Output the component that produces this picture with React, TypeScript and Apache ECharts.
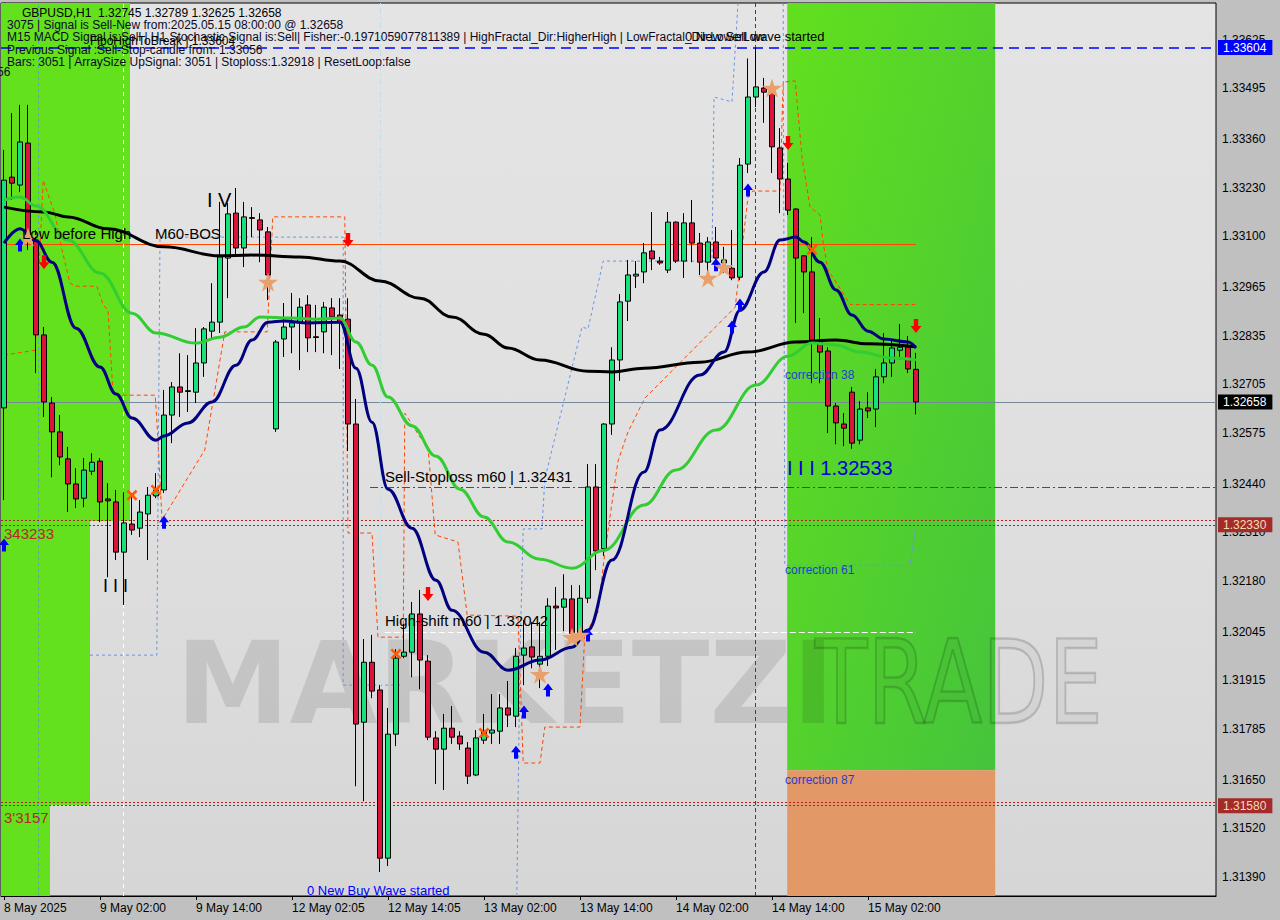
import React, { useEffect, useRef } from 'react';
import * as echarts from 'echarts';

// ---------- DATA ----------
// candles: [open, close, low, high], bar index = position in array (H1 bars)
const CANDLES: number[][] = [
  [1.32642, 1.33250, 1.32396, 1.33331], [1.33258, 1.33242, 1.33197, 1.33429], [1.33237, 1.33352, 1.33218, 1.33451],
  [1.33349, 1.33090, 1.33064, 1.33451], [1.33090, 1.32837, 1.32735, 1.33117], [1.32837, 1.32658, 1.32618, 1.32858],
  [1.32655, 1.32578, 1.32457, 1.32671], [1.32578, 1.32511, 1.32489, 1.32623], [1.32506, 1.32439, 1.32364, 1.32538],
  [1.32439, 1.32399, 1.32375, 1.32481], [1.32401, 1.32476, 1.32377, 1.32508], [1.32473, 1.32497, 1.32463, 1.32521],
  [1.32500, 1.32391, 1.32337, 1.32508], [1.32399, 1.32394, 1.32190, 1.32441], [1.32391, 1.32257, 1.32236, 1.32423],
  [1.32257, 1.32335, 1.32116, 1.32417], [1.32332, 1.32316, 1.32303, 1.32415], [1.32321, 1.32364, 1.32297, 1.32396],
  [1.32359, 1.32409, 1.32236, 1.32431], [1.32407, 1.32423, 1.32401, 1.32468], [1.32423, 1.32623, 1.32415, 1.32690],
  [1.32623, 1.32698, 1.32548, 1.32711], [1.32698, 1.32684, 1.32618, 1.32788], [1.32686, 1.32688, 1.32631, 1.32783],
  [1.32684, 1.32762, 1.32655, 1.32855], [1.32762, 1.32853, 1.32725, 1.32858], [1.32847, 1.32871, 1.32823, 1.32975],
  [1.32871, 1.33045, 1.32842, 1.33192], [1.33042, 1.33160, 1.32935, 1.33189], [1.33162, 1.33069, 1.33050, 1.33229],
  [1.33069, 1.33152, 1.33018, 1.33192], [1.33150, 1.33148, 1.33098, 1.33178], [1.33144, 1.33117, 1.33031, 1.33162],
  [1.33112, 1.32997, 1.32930, 1.33125], [1.32586, 1.32818, 1.32578, 1.32823], [1.32826, 1.32858, 1.32778, 1.32922],
  [1.32858, 1.32869, 1.32788, 1.32949], [1.32869, 1.32911, 1.32743, 1.32935], [1.32917, 1.32829, 1.32791, 1.32943],
  [1.32832, 1.32830, 1.32791, 1.32917], [1.32845, 1.32911, 1.32788, 1.32925], [1.32909, 1.32885, 1.32783, 1.32935],
  [1.32890, 1.32871, 1.32746, 1.32935], [1.32879, 1.32599, 1.32527, 1.32935], [1.32599, 1.31798, 1.31632, 1.32666],
  [1.31803, 1.31963, 1.31592, 1.32025], [1.31963, 1.31886, 1.31867, 1.32036], [1.31889, 1.31440, 1.31403, 1.31902],
  [1.31440, 1.31771, 1.31419, 1.31841], [1.31771, 1.31974, 1.31739, 1.31998], [1.31979, 1.31990, 1.31974, 1.32065],
  [1.31990, 1.32092, 1.31923, 1.32124], [1.32092, 1.31969, 1.31891, 1.32156], [1.31966, 1.31763, 1.31755, 1.31982],
  [1.31761, 1.31731, 1.31638, 1.31779], [1.31731, 1.31787, 1.31622, 1.31825], [1.31787, 1.31763, 1.31745, 1.31846],
  [1.31766, 1.31745, 1.31729, 1.31779], [1.31734, 1.31659, 1.31638, 1.31750], [1.31662, 1.31761, 1.31659, 1.31782],
  [1.31755, 1.31779, 1.31745, 1.31825], [1.31774, 1.31782, 1.31745, 1.31878], [1.31779, 1.31841, 1.31745, 1.31878],
  [1.31841, 1.31822, 1.31790, 1.31913], [1.31819, 1.31979, 1.31790, 1.32001], [1.31982, 1.32001, 1.31902, 1.32076],
  [1.32004, 1.31977, 1.31947, 1.32070], [1.31958, 1.31979, 1.31894, 1.32070], [1.31979, 1.32113, 1.31953, 1.32134],
  [1.32113, 1.32108, 1.31996, 1.32164], [1.32110, 1.32132, 1.32046, 1.32198], [1.32132, 1.32040, 1.32017, 1.32169],
  [1.32040, 1.32134, 1.32022, 1.32169], [1.32134, 1.32431, 1.32121, 1.32492], [1.32431, 1.32260, 1.32209, 1.32492],
  [1.32266, 1.32599, 1.32247, 1.32601], [1.32599, 1.32770, 1.32570, 1.32804], [1.32770, 1.32925, 1.32714, 1.32946],
  [1.32927, 1.32997, 1.32874, 1.33037], [1.32994, 1.32999, 1.32962, 1.33034], [1.33005, 1.33056, 1.32975, 1.33082],
  [1.33061, 1.33040, 1.33010, 1.33165], [1.33034, 1.33029, 1.33024, 1.33045], [1.33010, 1.33138, 1.33002, 1.33165],
  [1.33138, 1.33034, 1.33029, 1.33140], [1.33034, 1.33136, 1.32989, 1.33162], [1.33136, 1.33082, 1.33031, 1.33197],
  [1.33082, 1.33031, 1.32997, 1.33109], [1.33031, 1.33085, 1.33002, 1.33098], [1.33085, 1.33042, 1.33029, 1.33125],
  [1.33029, 1.33037, 1.33002, 1.33072], [1.33015, 1.32989, 1.32983, 1.33117], [1.32991, 1.33290, 1.32983, 1.33309],
  [1.33293, 1.33472, 1.33269, 1.33575], [1.33472, 1.33499, 1.33445, 1.33604], [1.33496, 1.33485, 1.33403, 1.33523],
  [1.33485, 1.33339, 1.33269, 1.33491], [1.33336, 1.33253, 1.33162, 1.33389], [1.33253, 1.33170, 1.33157, 1.33296],
  [1.33173, 1.33042, 1.32869, 1.33175], [1.33048, 1.33005, 1.32895, 1.33050], [1.33005, 1.32823, 1.32708, 1.33098],
  [1.32823, 1.32791, 1.32708, 1.32882], [1.32794, 1.32647, 1.32575, 1.32804], [1.32647, 1.32602, 1.32545, 1.32655],
  [1.32599, 1.32588, 1.32540, 1.32628], [1.32684, 1.32548, 1.32533, 1.32698], [1.32556, 1.32639, 1.32545, 1.32660],
  [1.32642, 1.32634, 1.32615, 1.32684], [1.32639, 1.32725, 1.32591, 1.32746], [1.32725, 1.32762, 1.32708, 1.32842],
  [1.32762, 1.32802, 1.32725, 1.32823], [1.32796, 1.32804, 1.32770, 1.32866], [1.32804, 1.32746, 1.32735, 1.32834],
  [1.32745, 1.32658, 1.32625, 1.32789],
];

const X_LABEL_INDEX = [0, 12, 24, 36, 48, 60, 72, 84, 96, 108];
const X_LABELS = ['8 May 2025', '9 May 02:00', '9 May 14:00', '12 May 02:05', '12 May 14:05', '13 May 02:00', '13 May 14:00', '14 May 02:00', '14 May 14:00', '15 May 02:00'];
const Y_TICKS = [1.33625, 1.33495, 1.33360, 1.33230, 1.33100, 1.32965, 1.32835, 1.32705, 1.32575, 1.32440, 1.32310, 1.32180, 1.32045, 1.31915, 1.31785, 1.31650, 1.31520, 1.31390];
const Y_MIN = 1.31339;
const Y_MAX = 1.33723;
const X_MIN = -0.375;
const X_MAX = 151.5;

// moving averages read at bar indices: [bar, price]
const MA_BLACK = [[0, 1.33178], [5, 1.33165], [8, 1.33152], [13, 1.33120], [20, 1.33072], [27, 1.33048], [31, 1.33050], [37, 1.33045], [42, 1.33034], [47, 1.32981], [52, 1.32935], [56, 1.32885], [60, 1.32839], [63, 1.32802], [67, 1.32770], [73, 1.32740], [76, 1.32738], [80, 1.32748], [87, 1.32764], [93, 1.32791], [99, 1.32818], [104, 1.32823], [108, 1.32813], [114, 1.32805]];
const MA_NAVY = [[0, 1.33082], [2, 1.33120], [4, 1.33088], [6, 1.33031], [9, 1.32855], [12, 1.32751], [14, 1.32679], [16, 1.32615], [19, 1.32556], [20, 1.32567], [23, 1.32602], [26, 1.32658], [29, 1.32756], [31, 1.32823], [33, 1.32871], [35, 1.32874], [38, 1.32869], [42, 1.32871], [44, 1.32748], [46, 1.32604], [48, 1.32425], [51, 1.32321], [54, 1.32182], [56, 1.32102], [60, 1.31990], [63, 1.31942], [67, 1.31969], [71, 1.32003], [73, 1.32049], [76, 1.32236], [80, 1.32471], [82, 1.32583], [87, 1.32730], [90, 1.32791], [92, 1.32903], [95, 1.33005], [97, 1.33090], [99, 1.33098], [100, 1.33085], [102, 1.33031], [104, 1.32957], [106, 1.32890], [108, 1.32847], [110, 1.32826], [113, 1.32818], [114, 1.32802]];
const MA_GREEN = [[0, 1.33197], [2, 1.33205], [4, 1.33181], [8, 1.33090], [12, 1.33002], [16, 1.32895], [19, 1.32842], [24, 1.32815], [27, 1.32831], [30, 1.32858], [32, 1.32885], [36, 1.32882], [39, 1.32879], [42, 1.32882], [44, 1.32818], [46, 1.32756], [48, 1.32671], [51, 1.32594], [54, 1.32513], [57, 1.32425], [60, 1.32351], [63, 1.32284], [67, 1.32238], [71, 1.32214], [75, 1.32262], [80, 1.32383], [84, 1.32476], [89, 1.32583], [94, 1.32703], [98, 1.32780], [101, 1.32815], [104, 1.32810], [107, 1.32791], [111, 1.32775], [114, 1.32770]];

// stepped fractal channels [bar, price]
const CHANNEL_ORANGE = [[0, 1.32783], [3.9, 1.32796], [4.9, 1.33250], [6.4, 1.33157], [7.25, 1.33064], [8.25, 1.32975], [8.9, 1.32967], [11.6, 1.32967], [12.4, 1.32917], [13, 1.32903], [13.6, 1.32690], [14.25, 1.32676], [18.9, 1.32676], [19.25, 1.32556], [19.75, 1.32343], [25.1, 1.32530], [27.6, 1.32845], [32.9, 1.32845], [33.6, 1.33152], [42.6, 1.33152], [43, 1.32308], [46, 1.32308], [46.75, 1.32030], [49.9, 1.32030], [50.1, 1.32628], [52, 1.32564], [53, 1.32538], [53.9, 1.32303], [56.75, 1.32284], [57.9, 1.32089], [64.25, 1.32086], [64.9, 1.31694], [67, 1.31694], [67.6, 1.31790], [72, 1.31790], [72.6, 1.32036], [74.25, 1.32097], [75.1, 1.32255], [76.75, 1.32500], [78, 1.32578], [80.1, 1.32668], [91.4, 1.32911], [93, 1.33205], [93.6, 1.33221], [97, 1.33221], [97.4, 1.33512], [98.9, 1.33515], [99.75, 1.33312], [100.75, 1.33178], [102, 1.33157], [102.4, 1.33082], [103, 1.33010], [104.25, 1.32970], [105.75, 1.32918], [113.9, 1.32918]];
const CHANNEL_BLUE_1 = [[10.75, 1.31982], [19.1, 1.31982], [19.5, 1.33098], [42.4, 1.33098], [42.4, 1.31902], [49.9, 1.31902]];
const CHANNEL_BLUE_2 = [[64.1, 1.31339], [64.5, 1.31987], [64.9, 1.32319], [67.25, 1.32319], [67.6, 1.32452], [72.25, 1.32858], [73, 1.32853], [74.9, 1.33034], [88.5, 1.33034], [88.75, 1.33472], [91, 1.33459], [91.75, 1.33723]];
const CHANNEL_BLUE_3 = [[97.4, 1.33723], [97.6, 1.32222], [113.25, 1.32222], [113.9, 1.32316]];

// signal markers [bar, price]
const SELL_ARROWS = [[5, 1.33031], [43, 1.33090], [53, 1.32145], [98, 1.33349], [114, 1.32861]];
const BUY_ARROWS = [[0, 1.32276], [2, 1.33077], [20, 1.32337], [64, 1.31723], [65, 1.31830], [68, 1.31889], [73, 1.32036], [89, 1.33024], [91, 1.32858], [92, 1.32917], [93, 1.33224]];
const CROSSES = [[16, 1.32409], [19, 1.32423], [49, 1.31985], [60, 1.31774], [101, 1.33064]];
const STARS = [[3, 1.33098], [33, 1.32978], [67, 1.31931], [71, 1.32030], [72, 1.32036], [88, 1.32989], [90, 1.33018], [96, 1.33496]];

// levels
const HIGH_TO_BREAK = 1.33604;
const BID = 1.32658;
const LEVEL_ORANGE = 1.33080;
const SELL_STOPLOSS = 1.32431;
const HIGH_SHIFT = 1.32042;
const SUPPORT_UPPER = [1.32341, 1.32330];
const SUPPORT_LOWER = [1.31590, 1.31580];

// zones [x0, x1, priceLow, priceHigh]
const ZONE_GREEN_LEFT = [[X_MIN, 15.75, 1.32340, Y_MAX], [X_MIN, 10.75, 1.31582, 1.32340], [X_MIN, 5.75, Y_MIN, 1.31582]];
const ZONE_GREEN_RIGHT = [97.9, 123.9, 1.31675, Y_MAX];
const ZONE_ORANGE_RIGHT = [97.9, 123.9, Y_MIN, 1.31675];

// ---------- STYLE ----------
const FONT = '"Liberation Sans", Arial, sans-serif';
const DOWN_ARROW = 'path://M3,0 L7,0 L7,6 L10,6 L5,12 L0,6 L3,6 Z';
const UP_ARROW = 'path://M5,0 L10,6 L7,6 L7,12 L3,12 L3,6 L0,6 Z';
const STAR = 'path://M50,0 L61,35 L98,35 L68,57 L79,91 L50,70 L21,91 L32,57 L2,35 L39,35 Z';
const CROSS = 'path://M0,2 L2,0 L6,4 L10,0 L12,2 L8,6 L12,10 L10,12 L6,8 L2,12 L0,10 L4,6 Z';

function txt(x: number, y: number, text: string, size: number, fill: string, z = 20, extra: any = {}) {
  return {
    type: 'text', x, y, z, silent: true,
    style: { text, fill, font: `${size}px ${FONT}`, verticalAlign: 'middle', textVerticalAlign: 'middle', ...extra },
  };
}

function buildOption() {
  const green = '#63e11c';
  const rightGreen = new echarts.graphic.LinearGradient(0, 0, 1, 1, [
    { offset: 0, color: '#62e01e' },
    { offset: 1, color: '#45c43c' },
  ]);
  const zoneData: any[] = ZONE_GREEN_LEFT.map((z) => [
    { xAxis: z[0], yAxis: z[2], itemStyle: { color: green } },
    { xAxis: z[1], yAxis: z[3] },
  ]);
  zoneData.push([
    { xAxis: ZONE_GREEN_RIGHT[0], yAxis: ZONE_GREEN_RIGHT[2], itemStyle: { color: rightGreen } },
    { xAxis: ZONE_GREEN_RIGHT[1], yAxis: ZONE_GREEN_RIGHT[3] },
  ]);
  zoneData.push([
    { xAxis: ZONE_ORANGE_RIGHT[0], yAxis: ZONE_ORANGE_RIGHT[2], itemStyle: { color: '#e39868' } },
    { xAxis: ZONE_ORANGE_RIGHT[1], yAxis: ZONE_ORANGE_RIGHT[3] },
  ]);

  const lastIdx = CANDLES.length - 1;
  const axisBox = (bg: string, fg: string) => ({
    show: true, position: 'end', distance: 2, color: fg, backgroundColor: bg,
    padding: [2, 6, 1, 5], fontSize: 12, fontFamily: FONT,
  });

  const markLines: any[] = [
    { yAxis: HIGH_TO_BREAK, lineStyle: { color: '#0000ff', width: 1.5, type: [10, 6] }, label: { ...axisBox('#0000ff', '#ffffff'), formatter: HIGH_TO_BREAK.toFixed(5) } },
    { yAxis: BID, lineStyle: { color: '#778899', width: 1, type: 'solid' }, label: { ...axisBox('#000000', '#ffffff'), formatter: BID.toFixed(5) } },
    { yAxis: SUPPORT_UPPER[0], lineStyle: { color: '#b22222', width: 1, type: [2, 2] }, label: { show: false } },
    { yAxis: SUPPORT_UPPER[1], lineStyle: { color: '#b22222', width: 1, type: [2, 2] }, label: { ...axisBox('#a52a2a', '#f3dfb4'), formatter: SUPPORT_UPPER[1].toFixed(5) } },
    { yAxis: SUPPORT_LOWER[0], lineStyle: { color: '#b22222', width: 1, type: [2, 2] }, label: { show: false } },
    { yAxis: SUPPORT_LOWER[1], lineStyle: { color: '#b22222', width: 1, type: [2, 2] }, label: { ...axisBox('#a52a2a', '#f3dfb4'), formatter: SUPPORT_LOWER[1].toFixed(5) } },
    [{ coord: [X_MIN, LEVEL_ORANGE], lineStyle: { color: '#ff4500', width: 1, type: 'solid' }, label: { show: false } }, { coord: [lastIdx, LEVEL_ORANGE] }],
    [{ coord: [45.75, SELL_STOPLOSS], lineStyle: { color: '#e01010', width: 1, type: [8, 3, 2, 3] }, label: { show: false } }, { coord: [X_MAX, SELL_STOPLOSS] }],
    [{ coord: [47.6, HIGH_SHIFT], lineStyle: { color: '#ffffff', width: 1, type: [6, 3] }, label: { show: false } }, { coord: [lastIdx, HIGH_SHIFT] }],
    { xAxis: 93.9, lineStyle: { color: '#b0102a', width: 1, type: [4, 3] }, label: { show: false } },
    { xAxis: 4.25, lineStyle: { color: '#6495ed', width: 1, type: [3, 3] }, label: { show: false } },
    { xAxis: 14.9, lineStyle: { color: '#ffffff', width: 1, type: [4, 4] }, label: { show: false } },
    { xAxis: 47, lineStyle: { color: '#bfe0e8', width: 1, type: [6, 3, 2, 3] }, label: { show: false } },
  ];

  const chanLine = (data: number[][], color: string, type: any) => ({
    type: 'line', data, showSymbol: false, symbol: 'none', z: 3, silent: true, clip: true,
    lineStyle: { color, width: 1, type },
  });

  const maLine = (data: number[][], color: string, z: number) => ({
    type: 'line', data, showSymbol: false, symbol: 'none', smooth: 0.4, smoothMonotone: 'x', z, silent: true,
    lineStyle: { color, width: 3 },
  });

  const scatter = (data: number[][], symbol: string, size: number[], color: string) => ({
    type: 'scatter', data, symbol, symbolSize: size, z: 8, silent: true,
    itemStyle: { color, opacity: 1 },
  });

  const graphic: any[] = [
    // watermark
    { type: 'text', x: 176, y: 683, z: 2, silent: true, style: { text: 'MARKETZI', fill: 'rgba(0,0,0,0.10)', font: `bold 114px "DejaVu Sans"`, verticalAlign: 'middle', textVerticalAlign: 'middle' } },
    { type: 'text', x: 815, y: 683, z: 2, scaleX: 0.74, silent: true, style: { text: 'TRADE', fill: 'rgba(0,0,0,0.03)', stroke: 'rgba(0,0,0,0.16)', lineWidth: 2.5, font: `116px "DejaVu Sans"`, verticalAlign: 'middle', textVerticalAlign: 'middle' } },
    // info block
    txt(22, 13, 'GBPUSD,H1\u00a0\u00a01.32745 1.32789 1.32625 1.32658', 12, '#000000'),
    txt(7, 25, '3075 | Signal is Sell-New from:2025.05.15 08:00:00 @ 1.32658', 12, '#0a0a28'),
    txt(7, 37, 'M15 MACD Signal is:Sell | H1 Stochastic Signal is:Sell| Fisher:-0.1971059077811389 | HighFractal_Dir:HigherHigh | LowFractal_Dir:LowerLow', 12, '#0a0a28'),
    txt(90, 41, 'FiboHighToBreak | 1.33604', 12, '#000000'),
    txt(7, 50, 'Previous Signal :Sell-Stop-candle from: 1.33056', 12, '#0a0a28'),
    txt(7, 62, 'Bars: 3051 | ArraySize UpSignal: 3051 | Stoploss:1.32918 | ResetLoop:false', 12, '#0a0a28'),
    txt(-3, 72, '56', 12, '#0a0a28'),
    txt(685, 36, '0 New Sell wave started', 13, '#000000'),
    // annotations
    txt(207, 200, 'I V', 20, '#000000'),
    txt(22, 233, 'Low before High', 15, '#000000'),
    txt(155, 233, 'M60-BOS', 15, '#000000'),
    txt(385, 476, 'Sell-Stoploss m60 | 1.32431', 15, '#000000'),
    txt(385, 620, 'High-shift m60 | 1.32042', 15, '#000000'),
    txt(103, 586, 'I I I', 18, '#000000'),
    txt(787, 468, 'I I I 1.32533', 20, '#0000d8'),
    txt(785, 375, 'correction 38', 12, '#1f3fd0'),
    txt(785, 570, 'correction 61', 12, '#1f3fd0'),
    txt(785, 780, 'correction 87', 12, '#1f3fd0'),
    txt(307, 890, '0 New Buy Wave started', 13, '#0000ff'),
    txt(4, 533, '343233', 15, '#b02a2a'),
    txt(4, 817, "3'3157", 15, '#b02a2a'),
  ];

  return {
    animation: false,
    backgroundColor: '#c0c0c0',
    grid: {
      left: 1, right: 64, top: 3, bottom: 24, show: true, borderColor: '#000', borderWidth: 1,
      backgroundColor: new echarts.graphic.LinearGradient(0, 0, 0, 1, [
        { offset: 0, color: '#e4e4e4' },
        { offset: 0.5, color: '#e0e0e0' },
        { offset: 1, color: '#d6d6d6' },
      ]),
    },
    xAxis: {
      type: 'value', min: X_MIN, max: X_MAX,
      axisLine: { show: true, lineStyle: { color: '#000' } },
      axisTick: { show: true, customValues: X_LABEL_INDEX, length: 4, lineStyle: { color: '#000' } },
      axisLabel: {
        customValues: X_LABEL_INDEX, align: 'left', color: '#000', fontFamily: FONT, fontSize: 12, margin: 6,
        formatter: (v: number) => { const k = X_LABEL_INDEX.indexOf(Math.round(v)); return k >= 0 ? X_LABELS[k] : ''; },
      },
      splitLine: { show: false },
    },
    yAxis: {
      type: 'value', position: 'right', min: Y_MIN, max: Y_MAX,
      axisLine: { show: true, lineStyle: { color: '#000' } },
      axisTick: { show: true, customValues: Y_TICKS, length: 4, lineStyle: { color: '#000' } },
      axisLabel: { customValues: Y_TICKS, color: '#000', fontFamily: FONT, fontSize: 12, margin: 6, formatter: (v: number) => v.toFixed(5) },
      splitLine: { show: false },
    },
    graphic,
    series: [
      { type: 'line', data: [], z: 1, silent: true, markArea: { silent: true, data: zoneData } },
      chanLine(CHANNEL_ORANGE, '#ff4500', [4, 3]),
      chanLine(CHANNEL_BLUE_1, '#6495ed', [3, 3]),
      chanLine(CHANNEL_BLUE_2, '#6495ed', [3, 3]),
      chanLine(CHANNEL_BLUE_3, '#6495ed', [3, 3]),
      {
        type: 'line', data: [], z: 4, silent: true, clip: false,
        markLine: { silent: true, precision: 5, symbol: ['none', 'none'], animation: false, data: markLines },
      },
      {
        type: 'candlestick', z: 5, silent: true,
        data: CANDLES.map((c, i) => [i, c[0], c[1], c[2], c[3]]),
        encode: { x: 0, y: [1, 2, 3, 4] },
        barWidth: 5,
        itemStyle: { color: '#17e27a', color0: '#dc143c', borderColor: '#000', borderColor0: '#000', borderWidth: 1 },
      },
      maLine(MA_BLACK, '#000000', 6),
      maLine(MA_GREEN, '#32cd32', 6),
      maLine(MA_NAVY, '#000080', 7),
      scatter(SELL_ARROWS, DOWN_ARROW, [11, 14], '#ff0000'),
      scatter(BUY_ARROWS, UP_ARROW, [10, 13], '#0000ff'),
      scatter(CROSSES, CROSS, [11, 11], '#ff5a00'),
      scatter(STARS, STAR, [20, 19], '#e8a06c'),
    ],
  };
}

export default function App() {
  const ref = useRef<HTMLDivElement>(null);
  useEffect(() => {
    if (!ref.current) return;
    const chart = echarts.init(ref.current, null, { renderer: 'svg' });
    chart.setOption(buildOption() as any);
    return () => chart.dispose();
  }, []);
  return <div ref={ref} style={{ position: 'fixed', left: 0, top: 0, width: 1280, height: 920, background: '#c0c0c0' }} />;
}
